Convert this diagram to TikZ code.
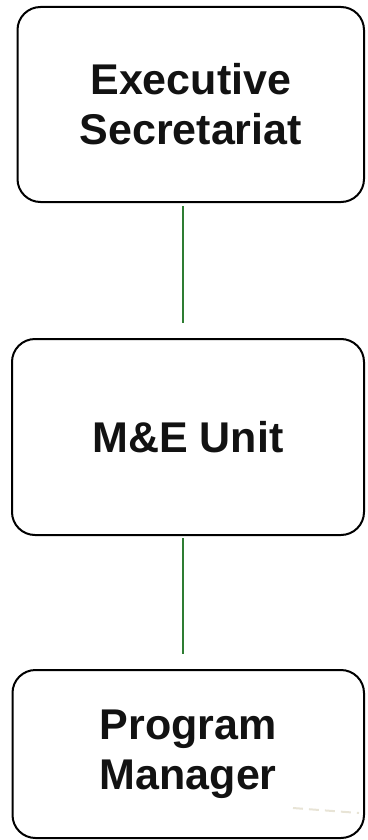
\documentclass[tikz,border=0pt]{standalone}
\usepackage{fontspec}
\setmainfont{Liberation Sans}
\begin{document}
\begin{tikzpicture}[x=1pt,y=-1pt,
  box/.style={draw=black, line width=2pt, rounded corners=23pt, align=center,
    font=\fontsize{43}{50}\selectfont\bfseries, text=black!93, inner sep=0pt},
  conn/.style={draw={rgb,255:red,46;green,125;blue,50}, line width=2pt},
  faint/.style={draw={rgb,255:red,232;green,228;blue,214}, line width=2pt, dash pattern=on 10pt off 6pt}]
\useasboundingbox (0,0) rectangle (367,840);
\node[box, minimum width=346.5pt, minimum height=195pt] (b1) at (190.75,104.5) {Executive\\Secretariat};
\node[box, minimum width=352pt, minimum height=196pt] (b2) at (188,437) {M\&E Unit};
\node[box, minimum width=351.5pt, minimum height=168pt] (b3) at (188.25,754) {Program\\Manager};
\coordinate (ax) at (183,0);
\draw[conn, shorten <=3pt, shorten >=15pt] (b1.south -| ax) -- (b2.north -| ax);
\draw[conn, shorten <=2pt, shorten >=15pt] (b2.south -| ax) -- (b3.north -| ax);
\coordinate (f1) at (293,808);
\coordinate (f2) at (359,813);
\draw[faint] (f1) -- (f2);
\end{tikzpicture}
\end{document}
